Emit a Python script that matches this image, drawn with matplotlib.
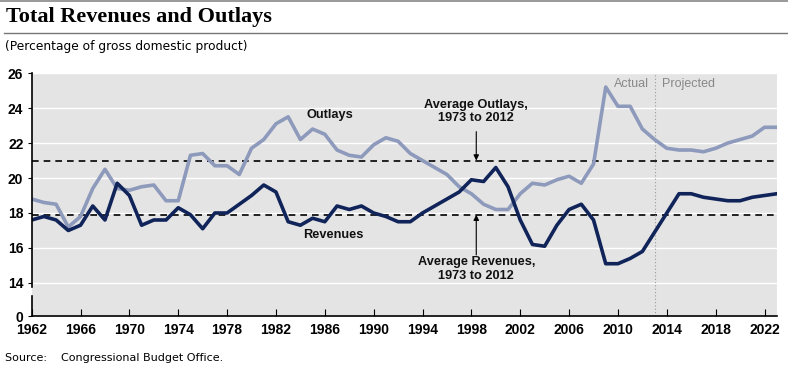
import matplotlib.pyplot as plt
from matplotlib.lines import Line2D

years = list(range(1962, 2024))
revenues = [17.6, 17.8, 17.6, 17.0, 17.3, 18.4, 17.6, 19.7, 19.0, 17.3,
            17.6, 17.6, 18.3, 17.9, 17.1, 18.0, 18.0, 18.5, 19.0, 19.6,
            19.2, 17.5, 17.3, 17.7, 17.5, 18.4, 18.2, 18.4, 18.0, 17.8,
            17.5, 17.5, 18.0, 18.4, 18.8, 19.2, 19.9, 19.8, 20.6, 19.5,
            17.6, 16.2, 16.1, 17.3, 18.2, 18.5, 17.6, 15.1, 15.1, 15.4,
            15.8, 16.9, 18.0, 19.1, 19.1, 18.9, 18.8, 18.7, 18.7, 18.9,
            19.0, 19.1]
outlays = [18.8, 18.6, 18.5, 17.2, 17.8, 19.4, 20.5, 19.4, 19.3, 19.5,
           19.6, 18.7, 18.7, 21.3, 21.4, 20.7, 20.7, 20.2, 21.7, 22.2,
           23.1, 23.5, 22.2, 22.8, 22.5, 21.6, 21.3, 21.2, 21.9, 22.3,
           22.1, 21.4, 21.0, 20.6, 20.2, 19.5, 19.1, 18.5, 18.2, 18.2,
           19.1, 19.7, 19.6, 19.9, 20.1, 19.7, 20.8, 25.2, 24.1, 24.1,
           22.8, 22.2, 21.7, 21.6, 21.6, 21.5, 21.7, 22.0, 22.2, 22.4,
           22.9, 22.9]
avg_outlays = 21.0
avg_revenues = 17.9
xticks = list(range(1962, 2023, 4))
yticks = [14, 16, 18, 20, 22, 24, 26]

# bottom of the broken axis stands in for 0
y_zero = 12.11

sans = 'Liberation Sans'

fig = plt.figure(figsize=(7.88, 3.69), dpi=100)
ax = fig.add_axes([0.0402, 0.1436, 0.9455, 0.6584])
ax.set_facecolor('#e4e4e4')

for t in yticks:
    ax.axhline(t, color='white', lw=1, zorder=1)

ax.axhline(avg_outlays, color='black', ls=(0, (4, 3)), lw=1.2, zorder=2)
ax.axhline(avg_revenues, color='black', ls=(0, (4, 3)), lw=1.2, zorder=2)
ax.axvline(2013, color='#999999', ls=(0, (1, 2)), lw=0.8, zorder=2)

ax.plot(years, outlays, color='#8e9abb', lw=2.6, zorder=3)
ax.plot(years, revenues, color='#10245a', lw=2.6, zorder=4)

ax.set_xlim(1962, 2023)
ax.set_ylim(y_zero, 26)

ax.set_xticks(xticks)
ax.set_xticklabels([str(x) for x in xticks], fontfamily=sans,
                   fontweight='bold', fontsize=10)
ax.set_yticks([y_zero] + yticks)
ax.set_yticklabels(['0'] + [str(t) for t in yticks], fontfamily=sans,
                   fontweight='bold', fontsize=10)
ax.tick_params(axis='x', direction='in', length=5, width=0.8, pad=5)
ax.tick_params(axis='y', direction='out', length=3, width=0.8, pad=3)

for s in ['top', 'right', 'left']:
    ax.spines[s].set_visible(False)
ax.spines['bottom'].set_linewidth(1.2)
# left spine with a break between 0 and 14
ax.plot([1962, 1962], [13.79, 26], color='black', lw=1.2, clip_on=False, zorder=5)
ax.plot([1962, 1962], [y_zero, 13.23], color='black', lw=1.2, clip_on=False, zorder=5)

txt = dict(fontfamily=sans, fontsize=9.2, fontweight='bold', color='#111111')
ax.text(1986.4, 23.6, 'Outlays', ha='center', va='center', **txt)
ax.text(1986.7, 16.75, 'Revenues', ha='center', va='center', **txt)
ax.text(1998.4, 23.8, 'Average Outlays,\n1973 to 2012', ha='center', va='center',
        linespacing=1.2, **txt)
ax.text(1998.4, 14.82, 'Average Revenues,\n1973 to 2012', ha='center', va='center',
        linespacing=1.2, **txt)
ax.annotate('', xy=(1998.4, avg_outlays), xytext=(1998.4, 22.65),
            arrowprops=dict(arrowstyle='-|>', color='black', lw=0.8,
                            mutation_scale=8, shrinkA=0, shrinkB=0))
ax.annotate('', xy=(1998.4, avg_revenues), xytext=(1998.4, 15.6),
            arrowprops=dict(arrowstyle='-|>', color='black', lw=0.8,
                            mutation_scale=8, shrinkA=0, shrinkB=0))
ax.text(2012.5, 25.35, 'Actual', ha='right', va='center', fontsize=9,
        fontfamily=sans, color='#888888')
ax.text(2013.6, 25.35, 'Projected', ha='left', va='center', fontsize=9,
        fontfamily=sans, color='#888888')

fig.text(0.008, 0.953, 'Total Revenues and Outlays', fontfamily='Liberation Serif',
         fontweight='bold', fontsize=16, ha='left', va='center')
fig.text(0.006, 0.873, '(Percentage of gross domestic product)',
         fontfamily='DejaVu Sans', fontsize=8.8, ha='left', va='center')
fig.text(0.006, 0.03, 'Source:    Congressional Budget Office.',
         fontfamily='DejaVu Sans', fontsize=8, ha='left', va='center')
fig.add_artist(Line2D([0, 1], [0.998, 0.998], color='#888888', lw=1.2))
fig.add_artist(Line2D([0.005, 1], [0.91, 0.91], color='#777777', lw=1.0))

fig.savefig('out.png', dpi=100)
